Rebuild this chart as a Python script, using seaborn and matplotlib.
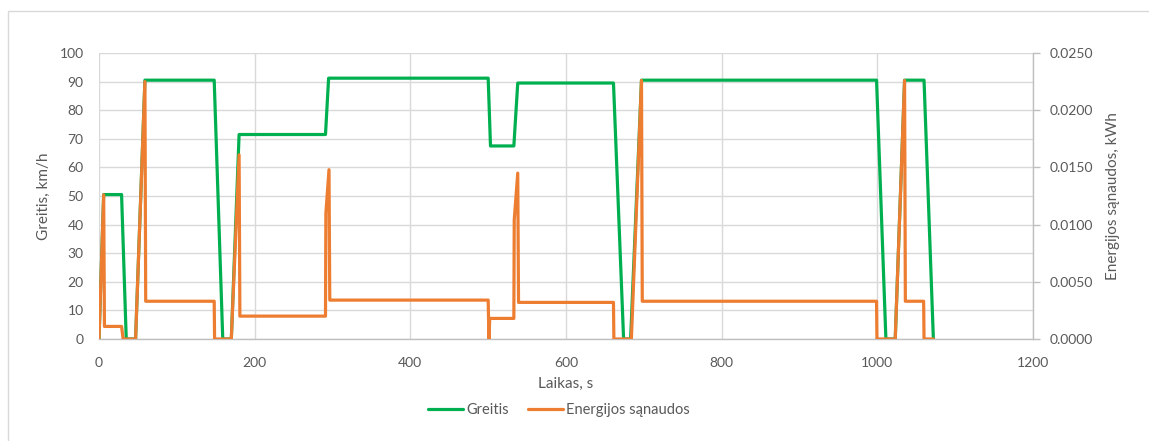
import matplotlib
matplotlib.use("Agg")
import matplotlib.pyplot as plt
from matplotlib.patches import Rectangle
from matplotlib.lines import Line2D
import pandas as pd
import seaborn as sns

# Speed profile (km/h) over time (s)
time_speed = [0, 6, 29, 35, 47, 59, 148, 159, 170, 180, 291, 295,
              500, 503, 533, 538, 661, 674, 683, 697, 999, 1011,
              1023, 1035, 1060, 1072]
speed = [0, 50.5, 50.5, 0, 0, 90.5, 90.5, 0, 0, 71.5, 71.5, 91.2,
         91.2, 67.5, 67.5, 89.5, 89.5, 0, 0, 90.5, 90.5, 0,
         0, 90.5, 90.5, 0]

# Energy consumption (kWh) over time (s)
time_energy = [0, 6, 7, 29, 31, 47, 59, 60, 148, 148.5, 170, 180, 181,
               291, 291.5, 295.5, 296.5, 500, 501, 502, 533, 533.5, 538,
               539, 661, 661.5, 684, 697, 698, 999, 999.5, 1023, 1035,
               1036, 1059.5, 1060, 1072]
energy = [0, 0.0126, 0.0011, 0.0011, 0, 0, 0.0225, 0.0033, 0.0033, 0, 0,
          0.0161, 0.0020, 0.0020, 0.0110, 0.0148, 0.0034, 0.0034, 0,
          0.0018, 0.0018, 0.0104, 0.0145, 0.0032, 0.0032, 0, 0, 0.0226,
          0.0033, 0.0033, 0, 0, 0.0226, 0.0033, 0.0033, 0, 0]

speed_label = "Greitis"
energy_label = "Energijos sąnaudos"
x_title = "Laikas, s"
y_title = "Greitis, km/h"
y2_title = "Energijos sąnaudos, kWh"

GREEN = "#00B050"
ORANGE = "#ED7D31"
GRID = "#D9D9D9"
AXIS = "#BFBFBF"
TEXT = "#595959"

sns.set_theme(style="white")
plt.rcParams["font.family"] = ["Lato", "DejaVu Sans"]

df_speed = pd.DataFrame({"t": time_speed, "v": speed})
df_energy = pd.DataFrame({"t": time_energy, "e": energy})

fig = plt.figure(figsize=(11.49, 4.41), dpi=100)
ax = fig.add_axes([99 / 1149, 1 - 339 / 441, (1033 - 99) / 1149, (339 - 53) / 441])
ax2 = ax.twinx()

sns.lineplot(data=df_speed, x="t", y="v", ax=ax, estimator=None, sort=False,
             color=GREEN, linewidth=2.3)
sns.lineplot(data=df_energy, x="t", y="e", ax=ax2, estimator=None, sort=False,
             color=ORANGE, linewidth=2.3)

ax.set_xlim(0, 1200)
ax.set_ylim(0, 100)
ax2.set_ylim(0, 0.025)
ax.set_xticks(range(0, 1201, 200))
ax.set_yticks(range(0, 101, 10))
ax2.set_yticks([0, 0.005, 0.01, 0.015, 0.02, 0.025])
ax2.set_yticklabels([f"{v:.4f}" for v in [0, 0.005, 0.01, 0.015, 0.02, 0.025]])

ax.grid(True, color=GRID, linewidth=1.0)
ax.set_axisbelow(True)
for s in ["top", "right", "left"]:
    ax.spines[s].set_visible(False)
ax.spines["bottom"].set_color(AXIS)
ax.spines["bottom"].set_linewidth(1.0)
for s in ["top", "left", "bottom"]:
    ax2.spines[s].set_visible(False)
ax2.spines["right"].set_color(AXIS)
ax2.spines["right"].set_linewidth(1.0)

ax.tick_params(axis="both", length=0, labelsize=10, labelcolor=TEXT)
ax.tick_params(axis="y", pad=11)
ax.tick_params(axis="x", pad=13)
ax2.tick_params(axis="y", length=5, width=1.0, color=AXIS, labelsize=10,
                labelcolor=TEXT, pad=7, right=True)

ax.set_xlabel(x_title, fontsize=11, color=TEXT, labelpad=6)
ax.set_ylabel(y_title, fontsize=11, color=TEXT, labelpad=6)
ax2.set_ylabel(y2_title, fontsize=11, color=TEXT, labelpad=9)

handles = [Line2D([], [], color=GREEN, linewidth=2.3),
           Line2D([], [], color=ORANGE, linewidth=2.3)]
leg = fig.legend(handles, [speed_label, energy_label], loc="center",
                 bbox_to_anchor=(559 / 1149, 1 - 410 / 441), ncol=2,
                 frameon=False, fontsize=10.5, handlelength=2.4,
                 handletextpad=0.2, columnspacing=1.3)
for txt in leg.get_texts():
    txt.set_color(TEXT)

# chart frame
fig.patches.append(Rectangle((7.5 / 1149, -0.05), 1.2, 1 - 11 / 441 + 0.05,
                             transform=fig.transFigure, fill=False,
                             edgecolor=GRID, linewidth=1.0, clip_on=False))

fig.savefig("out.png", dpi=100)
